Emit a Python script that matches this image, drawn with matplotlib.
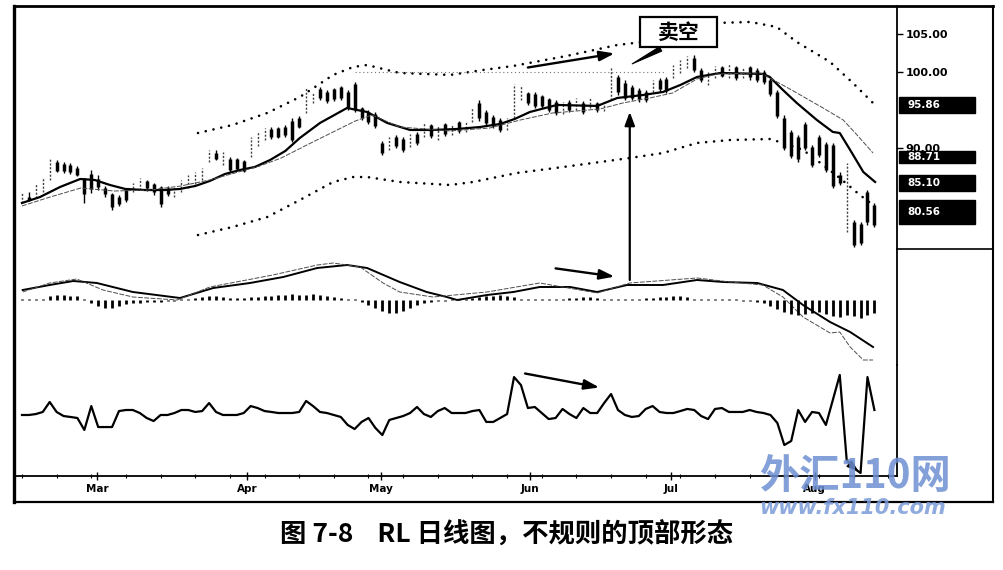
import numpy as np
import matplotlib
matplotlib.use("Agg")
import matplotlib.pyplot as plt
from matplotlib.lines import Line2D
from matplotlib.patches import ConnectionPatch, Rectangle
from matplotlib.ticker import MultipleLocator
import matplotlib.transforms as mtransforms

plt.rcParams['font.family'] = ['DejaVu Sans']

# ---------------- data (daily bars, index = trading day) ----------------
highs = [84.1, 84.2, 85.4, 86.1, 88.7, 88.4, 88.2, 88.0, 87.6, 86.1, 87.1, 86.5, 85.0, 84.1, 83.8, 84.7,
         85.4, 86.1, 85.8, 85.4, 85.0, 85.0, 84.9, 85.8, 86.4, 86.8, 87.4, 89.7, 89.7, 89.5, 88.8, 88.7,
         88.4, 91.4, 92.1, 92.6, 92.8, 92.8, 93.0, 93.9, 94.2, 97.9, 97.4, 98.0, 97.6, 97.9, 98.2, 97.6,
         98.7, 95.4, 95.0, 94.7, 90.9, 91.4, 91.7, 91.4, 91.8, 92.1, 93.4, 93.2, 92.9, 93.3, 93.0, 93.6,
         93.4, 95.3, 96.3, 95.0, 94.3, 93.9, 93.9, 98.4, 98.3, 97.4, 97.4, 97.0, 96.6, 96.3, 96.1, 96.3,
         96.6, 96.2, 96.6, 96.1, 96.3, 100.7, 99.6, 99.0, 98.3, 97.9, 97.6, 99.0, 99.2, 99.3, 100.9, 101.6,
         102.1, 102.2, 100.5, 100.0, 100.8, 100.8, 101.1, 100.8, 100.7, 100.8, 100.5, 100.3, 99.2, 97.6, 94.3, 92.4,
         91.7, 93.4, 90.4, 91.7, 90.8, 90.7, 86.8, 88.0, 80.5, 80.3, 84.5, 82.8]
lows = [82.8, 83.0, 83.4, 84.2, 85.8, 86.8, 86.7, 86.6, 86.3, 82.8, 84.1, 84.5, 83.6, 81.8, 82.4, 82.9,
        84.2, 84.5, 84.3, 83.8, 82.2, 83.7, 83.6, 84.2, 84.7, 85.3, 85.8, 88.2, 88.4, 87.8, 86.8, 87.1,
        86.8, 88.8, 90.3, 91.1, 91.2, 91.3, 91.4, 90.8, 92.6, 94.6, 95.9, 96.3, 95.9, 96.2, 96.3, 95.0,
        94.7, 93.7, 93.2, 92.6, 89.1, 89.7, 90.0, 89.5, 90.1, 90.4, 91.4, 91.3, 91.1, 91.6, 91.7, 92.0,
        92.1, 93.4, 93.6, 93.0, 92.6, 92.1, 92.4, 93.9, 96.3, 95.7, 95.3, 95.3, 94.7, 94.3, 94.5, 94.7,
        95.0, 94.5, 95.3, 94.7, 94.9, 96.3, 97.0, 96.3, 96.3, 96.1, 96.1, 97.4, 97.4, 97.2, 99.2, 99.9,
        100.5, 100.0, 98.7, 98.3, 99.2, 99.3, 99.2, 99.0, 99.2, 99.0, 98.7, 98.4, 96.8, 93.9, 89.7, 88.7,
        88.2, 89.7, 87.5, 88.8, 86.8, 84.7, 85.1, 78.9, 77.0, 77.2, 79.9, 79.6]
opens = [83.2, 83.5, 83.6, 84.8, 86.0, 88.2, 87.9, 87.8, 87.4, 86.0, 86.6, 85.9, 84.8, 83.9, 83.5, 84.5,
         84.3, 84.8, 85.6, 85.3, 84.9, 84.8, 83.8, 84.5, 85.3, 85.8, 86.3, 88.4, 89.4, 88.6, 88.6, 88.5,
         88.3, 89.0, 90.5, 91.3, 92.5, 92.6, 92.8, 93.6, 93.9, 94.9, 96.1, 97.8, 97.4, 97.7, 98.0, 97.4,
         98.4, 95.2, 94.8, 94.5, 90.7, 90.0, 91.5, 91.2, 90.3, 91.9, 91.7, 93.0, 91.4, 93.1, 92.0, 93.4,
         92.3, 93.6, 95.9, 94.8, 94.1, 93.7, 92.6, 94.2, 96.6, 97.2, 97.1, 96.8, 96.4, 96.1, 94.8, 96.0,
         95.3, 95.9, 95.5, 95.9, 95.1, 96.5, 99.3, 98.6, 98.0, 97.6, 97.3, 97.6, 98.9, 99.1, 99.4, 100.0,
         100.7, 101.9, 100.3, 98.5, 99.4, 100.6, 99.4, 100.6, 99.4, 100.6, 100.3, 100.0, 99.0, 97.3, 94.0, 92.1,
         91.4, 93.1, 90.1, 91.4, 90.5, 90.4, 86.5, 79.3, 80.3, 80.0, 84.2, 82.5]
closes = [83.7, 83.2, 85.0, 85.8, 88.3, 87.0, 87.0, 86.8, 86.5, 84.0, 84.6, 84.9, 83.9, 82.3, 82.6, 83.1,
          85.2, 85.9, 84.7, 84.2, 82.6, 83.9, 84.7, 85.6, 86.2, 86.6, 87.1, 89.5, 88.6, 89.2, 87.1, 87.3,
          87.0, 91.0, 91.8, 92.4, 91.4, 91.5, 91.7, 91.1, 92.8, 97.6, 97.2, 96.6, 96.2, 96.5, 96.6, 95.3,
          95.0, 94.0, 93.4, 92.9, 89.3, 91.2, 90.3, 89.8, 91.6, 90.7, 93.2, 91.6, 92.6, 91.8, 92.8, 92.2,
          93.2, 95.0, 93.9, 93.3, 92.9, 92.4, 93.7, 98.0, 98.0, 95.9, 95.5, 95.5, 95.0, 94.6, 95.8, 95.0,
          96.3, 94.8, 96.3, 95.0, 96.1, 100.3, 97.3, 96.6, 96.6, 96.4, 96.3, 98.7, 97.7, 97.5, 100.7, 101.4,
          101.9, 100.3, 99.0, 99.7, 100.6, 99.5, 100.9, 99.2, 100.5, 99.3, 99.0, 98.7, 97.1, 94.2, 90.0, 89.0,
          88.5, 90.0, 87.8, 89.1, 87.1, 85.0, 85.4, 81.0, 77.3, 77.5, 80.2, 79.9]

# moving averages (day index, price)
ma_fast_days = [0.0, 2.6, 5.5, 8.4, 10.5, 12.7, 14.9, 17.7, 20.6, 22.8, 25.0, 27.1, 29.3, 31.5, 33.6, 35.8,
                38.0, 40.1, 43.0, 46.9, 49.8, 52.7, 56.0, 59.3, 62.8, 66.1, 69.0, 71.1, 73.3, 77.2, 83.0, 85.9,
                89.6, 92.5, 95.0, 97.4, 100.8, 106.9, 107.9, 109.8, 111.8, 114.7, 117.0, 118.0, 119.5, 121.4, 123.1]
ma_fast = [82.76, 83.55, 84.87, 85.92, 85.79, 85.13, 84.61, 84.47, 84.47, 84.61, 85.0, 85.66, 86.58, 87.11, 87.5, 88.42,
           89.61, 91.32, 93.29, 95.26, 94.74, 93.29, 92.37, 92.37, 92.5, 92.76, 93.16, 93.82, 94.74, 95.66, 95.53, 96.58,
           96.97, 97.37, 98.29, 99.34, 99.87, 99.74, 99.34, 97.63, 95.92, 93.68, 92.11, 91.97, 89.74, 86.84, 85.53]
ma_slow_days = [0.0, 3.6, 8.5, 13.3, 18.5, 22.9, 27.1, 30.2, 34.3, 37.4, 41.1, 44.9, 48.1, 50.5, 54.5, 61.8,
                67.5, 71.9, 76.6, 83.4, 86.7, 90.6, 93.9, 97.4, 100.3, 106.5, 107.9, 110.8, 115.6, 118.5, 120.5, 122.8]
ma_slow = [82.37, 83.42, 84.74, 84.34, 84.47, 85.0, 85.79, 86.58, 87.63, 88.68, 90.39, 92.11, 93.55, 94.34, 92.76, 92.24,
           92.63, 93.68, 94.61, 95.13, 95.92, 96.58, 97.24, 99.08, 99.74, 99.87, 99.21, 97.76, 95.26, 93.68, 91.71, 89.34]

# envelope bands
upper_days = [25.4, 30.4, 35.4, 40.1, 44.9, 47.8, 49.8, 52.7, 54.5, 61.8, 66.5, 70.9, 78.6, 85.9, 89.6, 95.0,
              100.3, 105.1, 108.9, 111.8, 116.6, 119.9, 122.8]
upper_band = [91.97, 93.03, 94.61, 96.71, 99.61, 100.66, 100.92, 100.26, 99.87, 99.61, 100.26, 100.79, 102.11, 103.55,
              103.95, 105.53, 106.45, 106.58, 105.92, 103.95, 101.32, 98.55, 95.92]
lower_days = [25.4, 30.4, 35.4, 40.1, 44.9, 47.8, 49.8, 54.5, 61.8, 65.1, 71.4, 78.1, 87.7, 92.5, 97.4, 102.2,
              107.9, 109.8, 112.7, 115.6, 118.0, 120.9, 122.8]
lower_band = [78.55, 79.61, 80.92, 83.16, 85.53, 86.18, 86.18, 85.53, 85.13, 85.53, 86.71, 87.5, 88.68, 89.34, 90.66,
              91.05, 91.18, 90.66, 89.74, 87.76, 86.05, 83.82, 82.5]
resist_level = 100.0
resist_span = [48.0, 93.0]

# MACD-style panel
macd_days = [0.1, 4.0, 7.4, 10.8, 16.0, 22.8, 27.6, 32.9, 37.7, 42.6, 46.9, 49.8, 54.5, 58.4, 61.3, 62.8,
             67.1, 70.9, 74.7, 79.1, 83.0, 87.3, 92.5, 97.4, 101.2, 106.1, 109.8, 112.7, 116.6, 119.5, 122.8]
macd_line = [1.0, 1.5, 1.9, 1.7, 0.8, 0.2, 1.2, 1.7, 2.3, 3.2, 3.5, 3.2, 1.8, 0.8, 0.3, 0.0,
             0.5, 0.8, 1.3, 1.3, 0.8, 1.5, 1.5, 2.0, 1.8, 1.7, 1.0, -0.5, -2.2, -3.2, -4.7]
signal_days = [0.1, 4.0, 7.9, 11.7, 16.0, 22.4, 27.1, 36.2, 42.6, 44.9, 48.8, 52.1, 54.5, 59.3, 67.1, 74.7,
               83.0, 87.7, 97.4, 102.2, 106.9, 109.8, 112.7, 116.6, 118.0, 119.5, 121.4, 122.8]
signal_line = [0.8, 1.7, 2.1, 1.0, 0.3, 0.0, 1.3, 2.5, 3.5, 3.7, 3.3, 1.7, 0.8, 0.3, 0.8, 1.7,
               0.7, 1.7, 2.2, 1.8, 1.5, 0.3, -1.7, -3.3, -3.2, -4.7, -6.0, -6.0]
hist = [0.1, 0.1, 0.1, 0.1, 0.4, 0.5, 0.5, 0.4, 0.4, 0.1,
        -0.3, -0.6, -0.8, -0.8, -0.6, -0.4, -0.3, -0.3, -0.2, -0.2, -0.2,
        -0.1, -0.1, 0.1, 0.1, 0.2, 0.3, 0.4, 0.4, 0.3, 0.2, 0.2, 0.2, 0.3, 0.3,
        0.4, 0.4, 0.5, 0.5, 0.6, 0.5, 0.5, 0.6, 0.5, 0.4, 0.3, 0.2, 0.1, 0.1, -0.2,
        -0.5, -0.8, -1.1, -1.3, -1.3, -1.1, -0.8, -0.5, -0.3, -0.2, -0.1, -0.1, 0.1,
        0.1, 0.1, 0.2, 0.3, 0.4, 0.4, 0.5, 0.4, 0.3, 0.1, 0.1, 0.1, 0.1, 0.1, 0.1, 0.1, 0.2, 0.2,
        0.3, 0.3, 0.2, 0.1, 0.1, 0.1, 0.1, 0.1, 0.1, 0.2, 0.2, 0.3,
        0.3, 0.4, 0.4, 0.3, 0.1, 0.1, 0.1, 0.1, 0.1, 0.1, 0.1, -0.1, -0.1, -0.2,
        -0.3, -0.6, -0.9, -1.2, -1.4, -1.5, -1.4, -1.3, -1.2, -1.4, -1.6, -1.7, -1.5, -1.6, -1.8, -1.5, -1.3]

# RL oscillator panel
rl = [52.6, 52.6, 53.4, 55.2, 63.8, 55.2, 51.7, 50.9, 50.0, 39.7, 60.3, 42.2, 42.2, 42.2, 56.0, 56.9,
      56.9, 54.3, 50.0, 47.4, 52.6, 52.6, 54.3, 56.9, 56.9, 55.2, 56.0, 62.9, 55.2, 52.6, 52.6, 52.6,
      54.3, 60.3, 58.6, 56.0, 55.2, 54.3, 54.3, 54.3, 55.2, 64.7, 60.3, 55.2, 54.3, 52.6, 50.9, 44.0,
      40.5, 46.6, 50.0, 41.4, 35.3, 48.3, 50.0, 51.7, 54.3, 59.5, 53.4, 50.9, 56.0, 58.6, 54.3, 54.3,
      54.3, 56.0, 56.9, 46.6, 46.6, 50.0, 53.4, 85.3, 78.4, 58.6, 59.5, 54.3, 49.1, 50.0, 57.8, 53.4,
      50.0, 58.6, 54.3, 54.3, 62.9, 70.7, 56.9, 52.6, 50.9, 51.7, 57.8, 60.3, 55.2, 54.3, 54.3, 56.0,
      57.8, 56.9, 51.7, 49.1, 57.8, 58.6, 55.2, 55.2, 55.2, 56.9, 55.2, 54.3, 52.6, 45.7, 26.7, 30.2,
      56.9, 46.6, 55.2, 54.3, 44.0, 65.5, 87.1, 13.8, 6.9, 2.6, 85.3, 56.9]

months = ['Mar', 'Apr', 'May', 'Jun', 'Jul', 'Aug']
month_pos = [10.8, 32.5, 51.8, 73.3, 93.7, 114.4]
price_ticks = [90, 100, 105]
price_tick_labels = ['90.00', '100.00', '105.00']
value_boxes = [95.86, 88.71, 85.10, 80.56]
box_spans = [(94.61, 96.71), (88.0, 89.6), (84.34, 86.45), (80.0, 83.16)]

# ---------------- figure ----------------
W_PX, H_PX = 1004, 570
fig = plt.figure(figsize=(W_PX / 100, H_PX / 100), dpi=100)
fx = lambda px: px / W_PX
fy = lambda py: 1 - py / H_PX

L = fx(14)
Wd = fx(897) - fx(14)
ax_p = fig.add_axes([L, fy(249), Wd, fy(6) - fy(249)])
ax_m = fig.add_axes([L, fy(365), Wd, fy(249) - fy(365)])
ax_r = fig.add_axes([L, fy(476), Wd, fy(365) - fy(476)])

xlim = (-1.15, 126.26)
for ax in (ax_p, ax_m, ax_r):
    ax.set_xlim(*xlim)
    ax.set_facecolor('none')
    for s in ('left', 'top', 'bottom'):
        ax.spines[s].set_visible(False)
    ax.spines['right'].set_linewidth(1.3)
    ax.tick_params(axis='x', bottom=False, labelbottom=False)
    ax.tick_params(axis='y', left=False, labelleft=False, right=False, labelright=False)

# ----- price panel -----
days = np.arange(len(closes))
o = np.array(opens); c = np.array(closes); h = np.array(highs); l = np.array(lows)
up = c >= o
ax_p.vlines(days[up], l[up], h[up], color='0.25', lw=1.0, linestyles=(0, (1.5, 1.2)))
ax_p.vlines(days[~up], l[~up], h[~up], color='black', lw=1.0)
ax_p.vlines(days[~up], np.minimum(o, c)[~up], np.maximum(o, c)[~up], color='black', lw=2.5)

ax_p.plot(ma_fast_days, ma_fast, color='black', lw=1.6)
ax_p.plot(ma_slow_days, ma_slow, color='0.3', lw=0.7, ls=(0, (5, 1.5)))
for bd, bv in ((upper_days, upper_band), (lower_days, lower_band)):
    ax_p.plot(bd, bv, color='black', lw=1.9, ls=(0, (0.01, 3.0)), dash_capstyle='round')
ax_p.hlines(resist_level, resist_span[0], resist_span[1], color='0.45', lw=0.8, ls=(0, (1, 2.5)))

ax_p.set_ylim(76.71, 108.68)
ax_p.yaxis.set_ticks_position('right')
ax_p.set_yticks(price_ticks)
ax_p.set_yticklabels(price_tick_labels)
ax_p.tick_params(axis='y', right=True, labelright=True, direction='out', length=4, width=1,
                 labelsize=8, pad=2)
for t in ax_p.get_yticklabels():
    t.set_fontweight('bold')

blend = mtransforms.blended_transform_factory(ax_p.transAxes, ax_p.transData)
for val, (lo, hi) in zip(value_boxes, box_spans):
    ax_p.add_patch(Rectangle((1.002, lo), 0.086, hi - lo, transform=blend, facecolor='black',
                             edgecolor='black', clip_on=False, zorder=5))
    ax_p.text(1.012, (lo + hi) / 2, f'{val:.2f}', transform=blend, color='white', fontsize=7.5,
              fontweight='bold', va='center', ha='left', zorder=6, clip_on=False)

# "卖空" label box
ax_p.add_patch(Rectangle((89.2, 103.29), 11.1, 3.95, facecolor='white', edgecolor='black',
                         lw=1.6, clip_on=False, zorder=7))
ax_p.text(94.75, 105.2, '卖空', fontsize=15, fontweight='bold', ha='center', va='center',
          family=['Noto Sans CJK SC', 'DejaVu Sans'], zorder=8)
ax_p.annotate('', xy=(87.7, 100.9), xytext=(92.5, 103.2),
              arrowprops=dict(arrowstyle='wedge,tail_width=0.35', fc='black', ec='black', lw=0.8))
ax_p.annotate('', xy=(85.9, 102.5), xytext=(72.6, 100.53),
              arrowprops=dict(arrowstyle='-|>,head_length=0.9,head_width=0.3', fc='black',
                              ec='black', lw=1.7))

# ----- MACD panel -----
ax_m.set_ylim(-6.5, 5.1)
ax_m.plot(macd_days, macd_line, color='black', lw=1.4)
ax_m.plot(signal_days, signal_line, color='0.3', lw=0.7, ls=(0, (5, 1.5)))
ax_m.vlines(days, 0, hist, color='black', lw=2.0)
ax_m.annotate('', xy=(85.9, 2.3), xytext=(76.6, 3.2),
              arrowprops=dict(arrowstyle='-|>,head_length=0.9,head_width=0.3', fc='black',
                              ec='black', lw=1.7))

cp = ConnectionPatch(xyA=(87.7, 2.0), coordsA=ax_m.transData, xyB=(87.7, 94.74),
                     coordsB=ax_p.transData, arrowstyle='-|>,head_length=0.8,head_width=0.3',
                     color='black', lw=1.6, mutation_scale=10)
fig.add_artist(cp)

# ----- RL panel -----
ax_r.set_ylim(0, 95.7)
ax_r.plot(days, rl, color='black', lw=1.6)
ax_r.annotate('', xy=(121.0, 2.6), xytext=(119.6, 9.5),
              arrowprops=dict(arrowstyle='-|>,head_length=0.7,head_width=0.25', fc='black',
                              ec='black', lw=1.0))
ax_r.annotate('', xy=(83.7, 75.9), xytext=(72.2, 88.8),
              arrowprops=dict(arrowstyle='-|>,head_length=0.9,head_width=0.3', fc='black',
                              ec='black', lw=1.7))
ax_r.spines['bottom'].set_visible(True)
ax_r.spines['bottom'].set_linewidth(1.3)
ax_r.set_xticks(month_pos)
ax_r.set_xticklabels(months)
ax_r.xaxis.set_minor_locator(MultipleLocator(5))
ax_r.tick_params(axis='x', which='major', bottom=True, labelbottom=True, direction='inout',
                 length=6, width=1, labelsize=7.5, pad=3)
ax_r.tick_params(axis='x', which='minor', bottom=True, direction='inout', length=3, width=0.8)
for t in ax_r.get_xticklabels():
    t.set_fontweight('bold')

# ----- frame -----
def fline(x0, y0, x1, y1, lw):
    fig.add_artist(Line2D([fx(x0), fx(x1)], [fy(y0), fy(y1)], transform=fig.transFigure,
                          color='black', lw=lw, solid_capstyle='projecting'))

fline(14, 6, 14, 502, 2.4)
fline(14, 6, 993, 6, 2.0)
fline(993, 6, 993, 502, 1.5)
fline(14, 502, 993, 502, 1.6)
fline(897, 249, 993, 249, 1.2)

# ----- caption & watermark -----
fig.text(0.505, fy(535), '图 7-8    RL 日线图，不规则的顶部形态', fontsize=19, fontweight='bold',
         ha='center', va='center', family=['Noto Sans CJK SC', 'DejaVu Sans'])
fig.text(fx(855), fy(477), '外汇110网', fontsize=29, fontweight='bold', style='italic',
         color='#6d8fd2', alpha=0.85, ha='center', va='center',
         family=['Noto Sans CJK SC', 'DejaVu Sans'], zorder=20)
fig.text(fx(853), fy(508), 'www.fx110.com', fontsize=15, fontweight='bold', style='italic',
         color='#7b9bd8', alpha=0.85, ha='center', va='center', zorder=20)

fig.savefig('out.png', dpi=100)
